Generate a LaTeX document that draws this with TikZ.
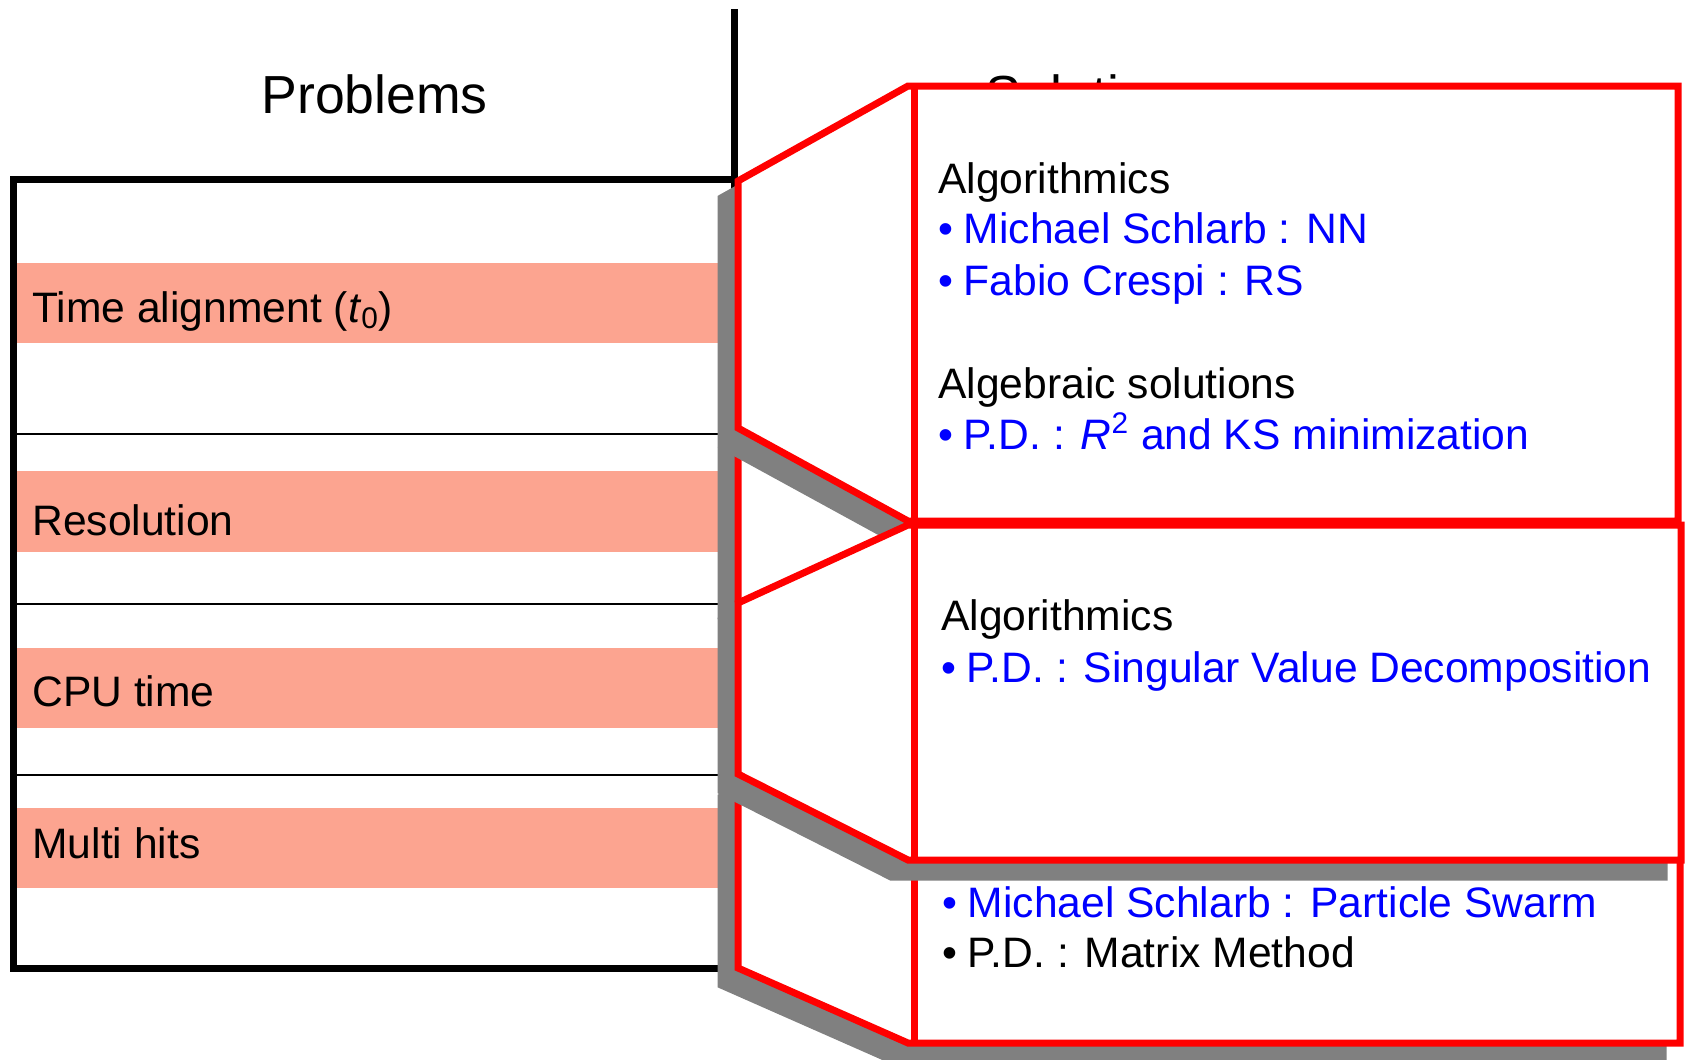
\documentclass[tikz,border=0pt]{standalone}
\usepackage{fontspec}
\setmainfont{Liberation Sans}
\definecolor{salmon}{RGB}{252,164,144}
\definecolor{shadowgray}{RGB}{128,128,128}
\definecolor{pblue}{RGB}{0,0,255}
\definecolor{pred}{RGB}{255,0,0}
\newcommand{\bul}{\makebox[12.8pt][l]{•}}
% #1 left-top y, #2 left-bottom y, #3 box top y, #4 box bottom y, #5 right x
\newcommand{\mycallout}[5]{%
  \filldraw[shade, shift={(-17,17)}] (738,#1) -- (908,#3) -- (#5,#3) -- (#5,#4) -- (908,#4) -- (738,#2) -- cycle;
  \filldraw[redline, fill=white] (738,#1) -- (908,#3) -- (#5,#3) -- (#5,#4) -- (908,#4) -- (738,#2) -- cycle;
  \draw[redline] (914,#3) -- (914,#4);
}
\begin{document}
\begin{tikzpicture}[x=0.5pt,y=-0.5pt,
  body/.style={anchor=base west, inner sep=0pt, font=\fontsize{21.3pt}{25pt}\selectfont},
  head/.style={anchor=base west, inner sep=0pt, font=\fontsize{26.8pt}{30pt}\selectfont},
  band/.style={fill=salmon},
  thinrule/.style={draw=black, line width=1.25pt},
  tableframe/.style={draw=black, line width=3.5pt, line join=miter},
  shade/.style={fill=shadowgray, draw=shadowgray, line width=3.5pt, line join=miter},
  redline/.style={draw=pred, line width=3.5pt, line join=miter},
]
\useasboundingbox (0,0) rectangle (1692,1060);
\clip (0,0) rectangle (1692,1060);

% salmon bands
\fill[band] (17,263) rectangle (734,343);
\fill[band] (17,471) rectangle (734,552);
\fill[band] (17,648) rectangle (734,728);
\fill[band] (17,808) rectangle (734,888);

% thin separators
\draw[thinrule] (13,434) -- (734,434);
\draw[thinrule] (13,604) -- (734,604);
\draw[thinrule] (13,775) -- (734,775);

% table frame and header divider
\draw[tableframe] (13,179) rectangle (734,968);
\draw[tableframe] (734,9) -- (734,179);

% problem labels
\node[body] (lab1) at (32,322) {Time alignment (\textit{t}\textsubscript{0})};
\node[body] (lab2) at (32,535) {Resolution};
\node[body] (lab3) at (32,706) {CPU time};
\node[body] (lab4) at (32,858) {Multi hits};

% headers
\node[head] (hprob) at (261,113) {Problems};
\node[head] (hsol) at (985,113) {Solutions};

% callout for multi hits (bottom)
\mycallout{780}{968}{700}{1043}{1680}
\node[body, text=pblue] (c3a) at (942,917) {\bul Michael Schlarb : Particle Swarm};
\node[body] (c3b) at (942,967) {\bul P.D. : Matrix Method};

% callout for resolution (hidden)
\mycallout{432}{600}{300}{700}{1670}

% callout for time alignment
\mycallout{181}{428}{86}{521}{1678}
\node[body] (c1a) at (938,193) {Algorithmics};
\node[body, text=pblue] (c1b) at (938,243) {\bul Michael Schlarb : NN};
\node[body, text=pblue] (c1c) at (938,295) {\bul Fabio Crespi : RS};
\node[body] (c1d) at (938,398) {Algebraic solutions};
\node[body, text=pblue] (c1e) at (938,449) {\bul P.D. : \textit{R}\textsuperscript{2} and KS minimization};

% callout for CPU time (top)
\mycallout{603}{774}{525}{860}{1681}
\node[body] (c2a) at (941,630) {Algorithmics};
\node[body, text=pblue] (c2b) at (941,682) {\bul P.D. : Singular Value Decomposition};
\end{tikzpicture}
\end{document}
